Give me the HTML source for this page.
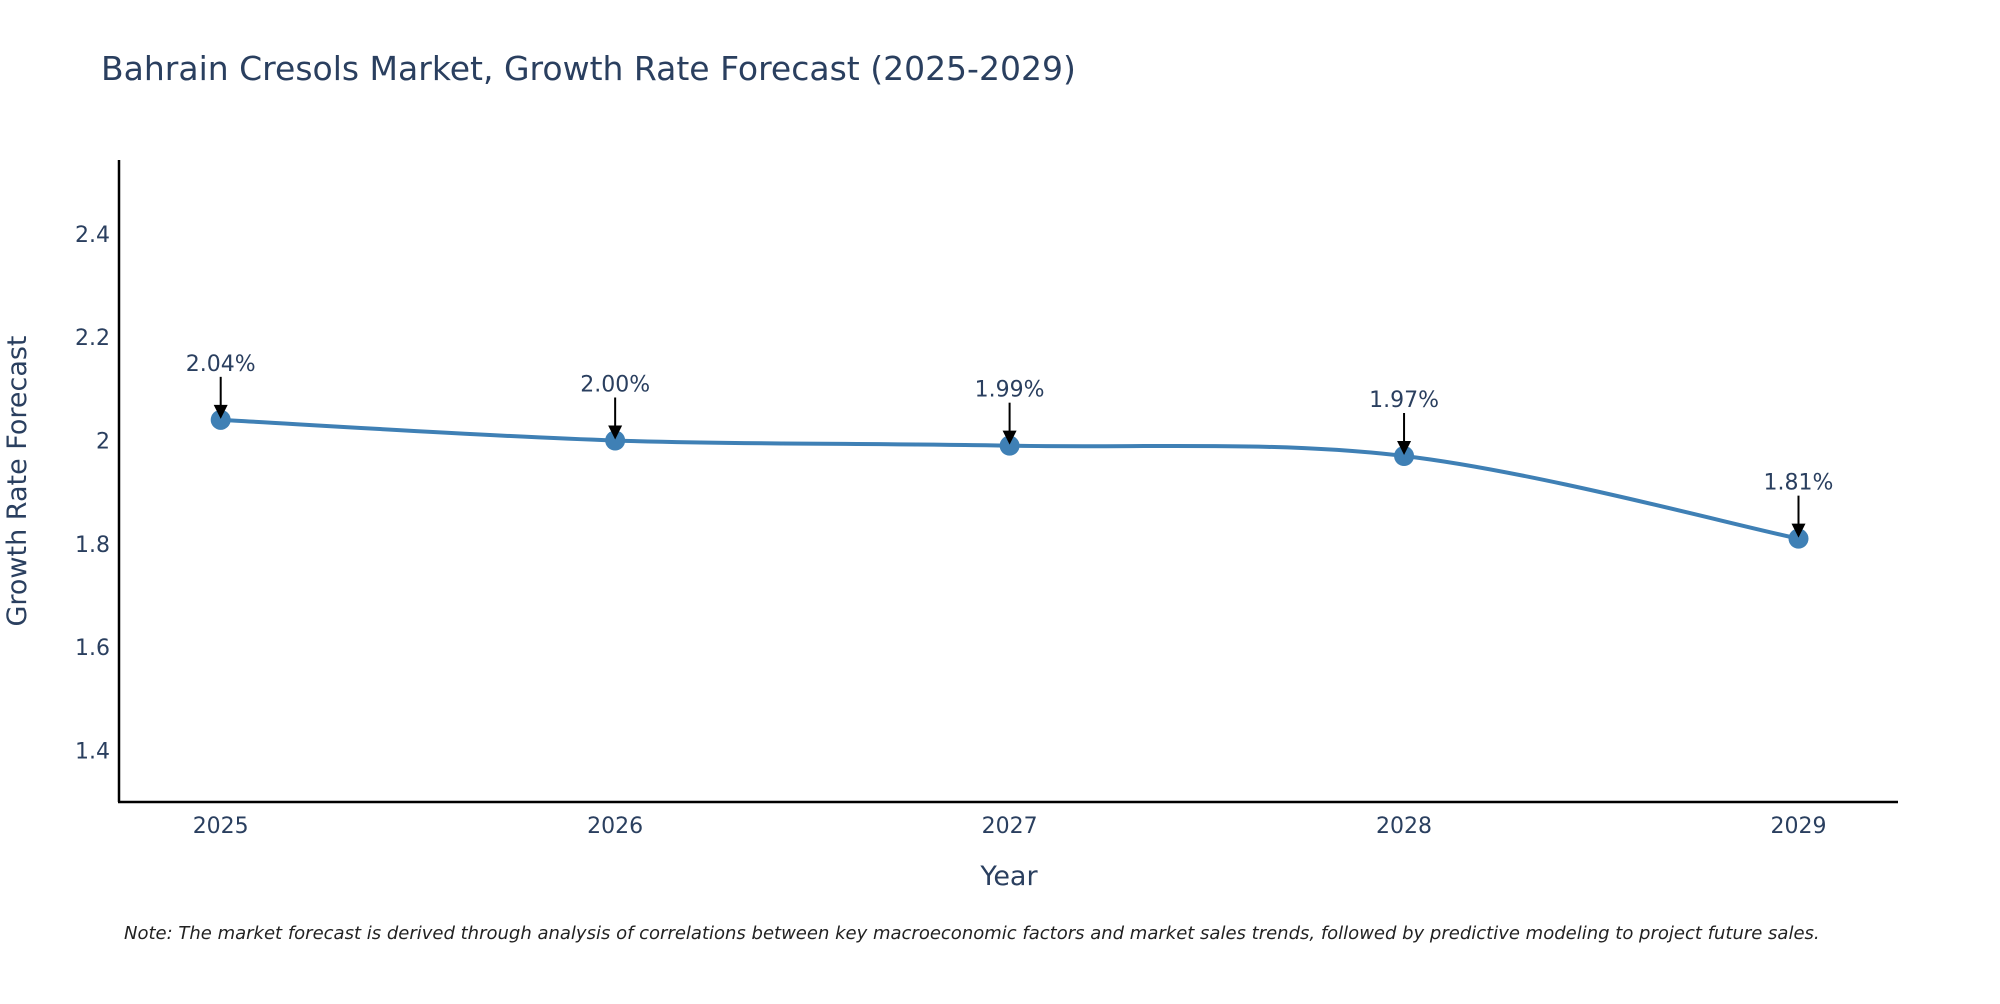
<!DOCTYPE html>
<html><head><meta charset="utf-8"><style>
body{margin:0;width:2000px;height:1000px;overflow:hidden;background:#fff;font-family:"DejaVu Sans","Liberation Sans",sans-serif}
svg text{font-family:"DejaVu Sans","Liberation Sans",sans-serif}
</style></head><body>
<svg width="2000" height="1000" xmlns="http://www.w3.org/2000/svg">
<text x="101" y="80" font-size="33" fill="#2a3f5f">Bahrain Cresols Market, Growth Rate Forecast (2025-2029)</text>
<g id="yt"></g>
<g id="xt"></g>
<line x1="119" y1="160" x2="119" y2="802" stroke="#000" stroke-width="2.5"/>
<line x1="118" y1="802" x2="1898" y2="802" stroke="#000" stroke-width="2.5"/>
<path id="line" fill="none" stroke="#3f80b5" stroke-width="4"/>
<g id="pts"></g>
<g id="ann"></g>
<text x="26" y="481" font-size="27" fill="#2a3f5f" text-anchor="middle" transform="rotate(-90 26 481)">Growth Rate Forecast</text>
<text x="1009" y="885" font-size="27" fill="#2a3f5f" text-anchor="middle">Year</text>
<text x="124" y="939" font-size="18" font-style="italic" fill="#222">Note: The market forecast is derived through analysis of correlations between key macroeconomic factors and market sales trends, followed by predictive modeling to project future sales.</text>
</svg>
<script>
const years=[2025,2026,2027,2028,2029];
const values=[2.04,2.00,1.99,1.97,1.81];
const labels=["2.04%","2.00%","1.99%","1.97%","1.81%"];
const yTicks=[1.4,1.6,1.8,2.0,2.2,2.4];
const yTickLabels=["1.4","1.6","1.8","2","2.2","2.4"];
const NS="http://www.w3.org/2000/svg";
const X=v=>220.7+(v-2025)*394.45;
const Y=v=>440.5-(v-2)*516.5;
function mk(t,a,p){const e=document.createElementNS(NS,t);for(const k in a)e.setAttribute(k,a[k]);p.appendChild(e);return e;}
const yt=document.getElementById('yt');
yTicks.forEach((t,i)=>{const e=mk('text',{x:110,y:Y(t)+8,'font-size':22,fill:'#2a3f5f','text-anchor':'end'},yt);e.textContent=yTickLabels[i];

});
const xt=document.getElementById('xt');
years.forEach(y=>{const e=mk('text',{x:X(y),y:833,'font-size':22,fill:'#2a3f5f','text-anchor':'middle'},xt);e.textContent=y;

});
const P=years.map((y,i)=>[X(y),Y(values[i])]);
let d='M'+P[0][0]+','+P[0][1];const s=1/6;
for(let i=0;i<P.length-1;i++){const p0=P[Math.max(0,i-1)],p1=P[i],p2=P[i+1],p3=P[Math.min(P.length-1,i+2)];
d+=' C'+(p1[0]+(p2[0]-p0[0])*s)+','+(p1[1]+(p2[1]-p0[1])*s)+' '+(p2[0]-(p3[0]-p1[0])*s)+','+(p2[1]-(p3[1]-p1[1])*s)+' '+p2[0]+','+p2[1];}
document.getElementById('line').setAttribute('d',d);
const pts=document.getElementById('pts'),ann=document.getElementById('ann');
P.forEach((p,i)=>{const c=mk('circle',{cx:p[0],cy:p[1],r:10,fill:'#3f80b5'},pts);


const l=mk('line',{x1:p[0],y1:p[1]-43,x2:p[0],y2:p[1]-14,stroke:'#000','stroke-width':2},ann);


const h=mk('polygon',{points:(p[0]-7)+','+(p[1]-15)+' '+(p[0]+7)+','+(p[1]-15)+' '+p[0]+','+(p[1]-1),fill:'#000'},ann);


const t=mk('text',{x:p[0],y:p[1]-49,'font-size':22,fill:'#2a3f5f','text-anchor':'middle'},ann);t.textContent=labels[i];

});
</script>
</body></html>
